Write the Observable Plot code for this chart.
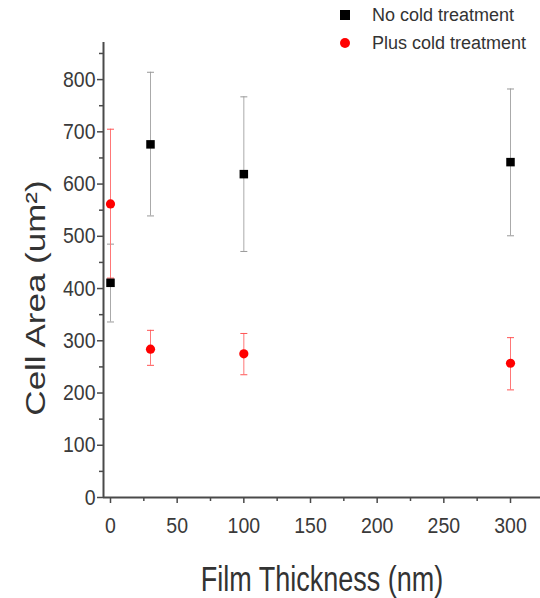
<!DOCTYPE html>
<html>
<head>
<meta charset="utf-8">
<script src="https://cdn.jsdelivr.net/npm/d3@7"></script>
<script src="https://cdn.jsdelivr.net/npm/@observablehq/plot@0.6"></script>
<style>
  html, body { margin: 0; padding: 0; background: #fff; }
  #wrap { position: relative; width: 540px; height: 598px; font-family: "Liberation Sans", Arial, sans-serif; }
  .leg { position: absolute; left: 340px; font-size: 18px; color: #333; display: flex; align-items: center; white-space: nowrap; line-height: 20px; }
  .leg .sym { display: inline-block; width: 10px; height: 10px; margin-right: 22px; }
</style>
</head>
<body>
<div id="wrap">
  <div class="leg" style="top:5px;"><span class="sym" style="background:#000;"></span>No cold treatment</div>
  <div class="leg" style="top:33px;"><span class="sym" style="background:#f00;border-radius:50%;"></span>Plus cold treatment</div>
</div>
<script>
// Data
const thickness = [0, 30, 100, 300];
const noColdMean = [411, 676, 619, 642];
const noColdLow  = [336, 539, 471, 501];
const noColdHigh = [485, 814, 767, 782];
const coldMean = [562, 284, 275, 257];
const coldLow  = [420, 253, 235, 206];
const coldHigh = [705, 320, 314, 306];

const yTicks = [0, 100, 200, 300, 400, 500, 600, 700, 800];
const yMinor = [50, 150, 250, 350, 450, 550, 650, 750, 850];
const xTicks = [0, 50, 100, 150, 200, 250, 300];
const xMinor = [25, 75, 125, 175, 225, 275];
const xDomain = [-5.25, 322.5];
const yDomain = [0, 871];
const xLabel = "Film Thickness (nm)";
const yLabel = "Cell Area (um\u00B2)";

const noCold = thickness.map((x, i) => ({x, y: noColdMean[i], lo: noColdLow[i], hi: noColdHigh[i]}));
const cold = thickness.map((x, i) => ({x, y: coldMean[i], lo: coldLow[i], hi: coldHigh[i]}));

const cap = { draw(ctx, size) { const r = Math.sqrt(size / Math.PI); ctx.moveTo(-r, 0); ctx.lineTo(r, 0); } };

const axisColor = "#4a4a4a";
const tickText = "#3a3a3a";

const chart = Plot.plot({
  width: 540, height: 598,
  marginLeft: 103, marginRight: 0, marginTop: 42, marginBottom: 101,
  x: { domain: xDomain, axis: null },
  y: { domain: yDomain, axis: null },
  style: { fontFamily: "'Liberation Sans', Arial, sans-serif", fontSize: "19px", color: tickText, background: "transparent" },
  marks: [
    Plot.axisY({ ticks: yTicks, tickSize: 6, tickFormat: () => "", label: null, stroke: axisColor, strokeWidth: 1.5 }),
    Plot.axisY({ ticks: yMinor, tickSize: 4, tickFormat: () => "", label: null, stroke: axisColor, strokeWidth: 1.5 }),
    Plot.axisX({ ticks: xTicks, tickSize: 6, tickFormat: () => "", label: null, stroke: axisColor, strokeWidth: 1.5 }),
    Plot.axisX({ ticks: xMinor, tickSize: 4, tickFormat: () => "", label: null, stroke: axisColor, strokeWidth: 1.5 }),
    // tick labels
    Plot.text(yTicks, { y: d => d, frameAnchor: "left", textAnchor: "end", dx: -8, fontSize: 19.5, fill: tickText }),
    Plot.text(xTicks, { x: d => d, frameAnchor: "bottom", lineAnchor: "top", dy: 20, fontSize: 19.5, fill: tickText }),
    Plot.ruleX([xDomain[0]], { stroke: axisColor, strokeWidth: 2 }),
    Plot.ruleY([yDomain[0]], { stroke: axisColor, strokeWidth: 2 }),
    Plot.text([xLabel], { frameAnchor: "bottom", lineAnchor: "bottom", dy: 93, fontSize: 27, fill: "#333" }),
    Plot.text([yLabel], { frameAnchor: "left", textAnchor: "middle", lineAnchor: "bottom", rotate: -90, dx: -59, dy: 28, fontSize: 28, fill: "#333" }),
    // error bars
    Plot.ruleX(noCold, { x: "x", y1: "lo", y2: "hi", stroke: "#aaa", strokeWidth: 1 }),
    Plot.dot(noCold, { x: "x", y: "lo", symbol: cap, r: 3.5, stroke: "#999", strokeWidth: 1 }),
    Plot.dot(noCold, { x: "x", y: "hi", symbol: cap, r: 3.5, stroke: "#999", strokeWidth: 1 }),
    Plot.ruleX(cold, { x: "x", y1: "lo", y2: "hi", stroke: "#ff7777", strokeWidth: 1 }),
    Plot.dot(cold, { x: "x", y: "lo", symbol: cap, r: 3.5, stroke: "#ff5555", strokeWidth: 1 }),
    Plot.dot(cold, { x: "x", y: "hi", symbol: cap, r: 3.5, stroke: "#ff5555", strokeWidth: 1 }),
    // points
    Plot.dot(noCold, { x: "x", y: "y", symbol: "square", r: 4.8, fill: "#000" }),
    Plot.dot(cold, { x: "x", y: "y", symbol: "circle", r: 4.6, fill: "#f00" })
  ]
});

// The reference's text is stretched vertically; reproduce that.
function stretch(test, sx, sy) {
  chart.querySelectorAll("text").forEach(t => {
    if (!test(t.textContent.trim())) return;
    const tr = t.getAttribute("transform");
    if (tr) {
      t.setAttribute("transform", tr + ` scale(${sx},${sy})`);
    } else {
      const x = +(t.getAttribute("x") || 0), y = +(t.getAttribute("y") || 0);
      t.setAttribute("transform", `translate(${x},${y}) scale(${sx},${sy}) translate(${-x},${-y})`);
    }
  });
}
stretch(s => s === xLabel, 1, 1.27);
stretch(s => s === yLabel, 1.25, 1);
stretch(s => /^\d+$/.test(s), 1, 1.15);

chart.style.position = "absolute";
chart.style.left = "0";
chart.style.top = "0";
document.getElementById("wrap").appendChild(chart);
</script>
</body>
</html>
